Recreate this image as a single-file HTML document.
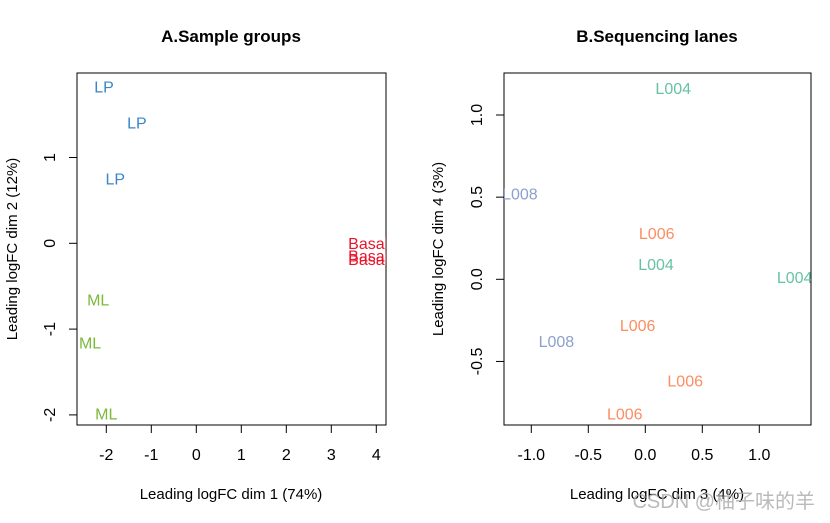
<!DOCTYPE html>
<html><head><meta charset="utf-8"><style>
body{margin:0;background:#fff;}
svg text{font-family:"Liberation Sans","Noto Sans CJK SC",sans-serif;}
</style></head><body>
<svg id="c" width="830" height="518" xmlns="http://www.w3.org/2000/svg">
<defs>
<clipPath id="clipA"><rect x="77" y="73" width="309" height="352"/></clipPath>
<clipPath id="clipB"><rect x="504" y="73" width="307" height="352"/></clipPath>
</defs>
<text x="231" y="42" font-size="17" font-weight="bold" text-anchor="middle">A.Sample groups</text>
<text x="657" y="42" font-size="17" font-weight="bold" text-anchor="middle">B.Sequencing lanes</text>
<rect x="77" y="73" width="309" height="352" fill="none" stroke="#000"/>
<rect x="504" y="73" width="307" height="352" fill="none" stroke="#000"/>
<text x="231" y="499" font-size="15" text-anchor="middle">Leading logFC dim 1 (74%)</text>
<text transform="translate(17,249) rotate(-90)" font-size="15" text-anchor="middle">Leading logFC dim 2 (12%)</text>
<text x="657" y="499" font-size="15" text-anchor="middle">Leading logFC dim 3 (4%)</text>
<text transform="translate(443,249) rotate(-90)" font-size="15" text-anchor="middle">Leading logFC dim 4 (3%)</text>
<text x="815" y="508" font-size="20" text-anchor="end" fill="#aaa" opacity="0.8">CSDN @柚子味的羊</text>
<g id="ga"></g><g id="gb"></g>
</svg>
<script>
// Panel A data
const groupLabels=["LP","LP","LP","Basal","Basal","Basal","ML","ML","ML"];
const dim1=[-2.05,-1.32,-1.8,3.82,3.82,3.82,-2.18,-2.36,-2.0];
const dim2=[1.82,1.40,0.75,0.0,-0.15,-0.19,-0.66,-1.16,-1.99];
const xTicksA=[-2,-1,0,1,2,3,4];
const yTicksA=[-2,-1,0,1];
// Panel B data
const laneLabels=["L004","L008","L006","L004","L004","L006","L008","L006","L006"];
const dim3=[0.245,-1.1,0.10,0.094,1.31,-0.067,-0.78,0.35,-0.18];
const dim4=[1.16,0.52,0.28,0.09,0.01,-0.28,-0.38,-0.62,-0.82];
const xTicksB=[-1.0,-0.5,0.0,0.5,1.0];
const yTicksB=[-0.5,0.0,0.5,1.0];
const tickLabB=["-1.0","-0.5","0.0","0.5","1.0"];
const yTickLabB=["-0.5","0.0","0.5","1.0"];

const NS="http://www.w3.org/2000/svg";
const colA={LP:"#3a86c8",ML:"#7cb83a",Basal:"#e8162c"};
const colB={L004:"#66c2a5",L006:"#fc8d62",L008:"#8da0cb"};
const xA=v=>106.3+(v+2)*45, yA=v=>243.3-v*85.8;
const xB=v=>645.3+v*114, yB=v=>279.3-v*164.3;
function mk(tag,attrs,parent){const e=document.createElementNS(NS,tag);for(const k in attrs)e.setAttribute(k,attrs[k]);parent.appendChild(e);return e;}
const ga=document.getElementById('ga'), gb=document.getElementById('gb');
function axes(g,xt,xl,yt,yl,xf,yf,x0,yb){
  xt.forEach((t,i)=>{
    const l=mk('line',{x1:xf(t),x2:xf(t),y1:yb,y2:yb+8,stroke:'#000'},g);
    
    
    const tx=mk('text',{x:xf(t),y:yb+35,'font-size':16,'text-anchor':'middle'},g);tx.textContent=xl[i];
    
    
  });
  yt.forEach((t,i)=>{
    const l=mk('line',{x1:x0-8,x2:x0,y1:yf(t),y2:yf(t),stroke:'#000'},g);
    
    
    const tx=mk('text',{transform:`translate(${x0-22},${yf(t)}) rotate(-90)`,'font-size':16,'text-anchor':'middle'},g);tx.textContent=yl[i];
    
    
  });
}
axes(ga,xTicksA,xTicksA.map(String),yTicksA,yTicksA.map(String),xA,yA,77,425);
axes(gb,xTicksB,tickLabB,yTicksB,yTickLabB,xB,yB,504,425);
const pa=mk('g',{'clip-path':'url(#clipA)'},ga);
groupLabels.forEach((s,i)=>{
  const t=mk('text',{x:xA(dim1[i]),y:yA(dim2[i])+5.5,'font-size':16,'text-anchor':'middle',fill:colA[s]},pa);t.textContent=s;
  
  
});
const pb=mk('g',{'clip-path':'url(#clipB)'},gb);
laneLabels.forEach((s,i)=>{
  const t=mk('text',{x:xB(dim3[i]),y:yB(dim4[i])+5.5,'font-size':16,'text-anchor':'middle',fill:colB[s]},pb);t.textContent=s;
  
  
});
</script>
</body></html>
